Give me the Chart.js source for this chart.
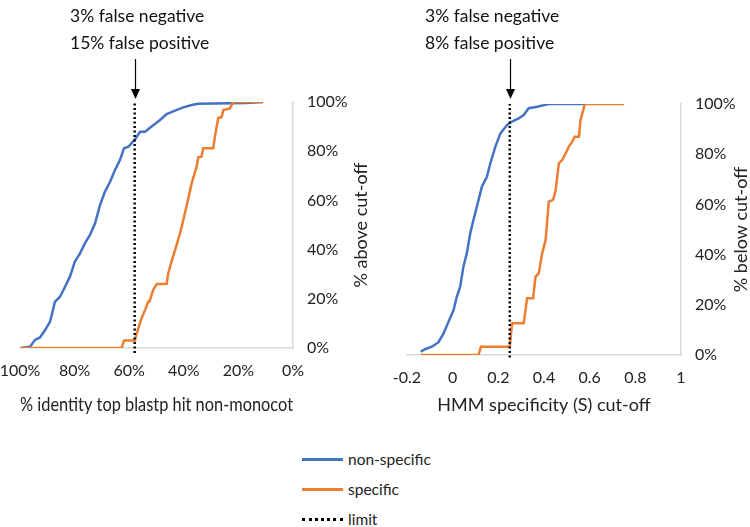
<!DOCTYPE html>
<html>
<head>
<meta charset="utf-8">
<script src="https://cdn.jsdelivr.net/npm/chart.js@4/dist/chart.umd.min.js"></script>
<style>
  html, body { margin: 0; padding: 0; background: #fff; }
  body { width: 750px; height: 527px; position: relative; overflow: hidden; font-family: Lato, "Open Sans", sans-serif; }
  .cv { position: absolute; top: 0; }
  #legend { position: absolute; left: 302px; top: 444px; font-size: 15.5px; color: #222; }
  .li { display: flex; align-items: center; height: 30px; }
  .sw { width: 41px; height: 0; margin-right: 5px; }
</style>
</head>
<body>
<canvas id="c1" class="cv" style="left:0" width="375" height="430"></canvas>
<canvas id="c2" class="cv" style="left:375px" width="375" height="430"></canvas>
<div id="legend">
  <div class="li"><span class="sw" id="sw0"></span><span>non-specific</span></div>
  <div class="li"><span class="sw" id="sw1"></span><span>specific</span></div>
  <div class="li"><span class="sw" id="sw2"></span><span>limit</span></div>
</div>
<script>
// ---------- Left chart data (% identity vs % above cut-off) ----------
const leftNonSpecX = [99.7,96.3,94.5,92.7,90.8,89.0,87.2,85.3,83.5,81.7,79.9,78.0,76.2,74.4,72.5,70.7,68.9,67.0,65.2,63.4,61.9,60.3,57.9,56.0,54.2,51.8,48.7,46.3,43.2,40.2,37.1,34.7,17.0,11.0];
const leftNonSpecY = [0,0.5,3.3,4.3,7.3,10.7,18.8,20.9,24.9,29.0,35.1,38.5,42.6,45.9,50.7,58.1,63.5,67.6,72.4,76.4,81.2,81.8,84.8,87.9,87.9,90.0,92.7,95.1,96.5,97.8,98.8,99.3,99.6,100];
const leftSpecX = [99.7,62.8,61.9,57.9,57.5,55.5,54.2,53.1,52.6,51.2,49.9,46.3,45.7,44.5,43.2,41.4,40.2,38.9,37.1,35.3,34.7,33.5,32.9,29.2,28.6,27.4,26.1,25.5,23.1,21.9,10.9];
const leftSpecY = [0,0,3,3,5,12,15.4,18.8,18.8,23.6,26,26,30.4,35.1,39.8,46.6,52,58.1,67,73.7,77.5,77.8,81.2,81.2,85.9,93.4,94,96.7,97.4,100,100];
const leftLimitX = [58,58];
const leftLimitY = [-2,100];
const leftXTicks = [100,80,60,40,20,0];

// ---------- Right chart data (HMM specificity vs % below cut-off) ----------
const rightNonSpecX = [-0.140,-0.121,-0.091,-0.062,-0.040,-0.018,0.004,0.018,0.033,0.047,0.062,0.077,0.091,0.106,0.128,0.150,0.165,0.187,0.209,0.238,0.260,0.289,0.311,0.333,0.370,0.421,0.575];
const rightNonSpecY = [1.3,2.3,3.3,5.1,8.6,13.3,17.9,23.2,27.2,35.2,40.5,48.5,53.8,59.1,67.1,71.0,76.4,83.0,88.3,91.6,93.0,94.3,95.6,98.3,98.9,100,100];
const rightSpecX = [-0.140,0.113,0.124,0.250,0.260,0.311,0.326,0.352,0.363,0.377,0.392,0.407,0.421,0.440,0.451,0.465,0.480,0.495,0.509,0.524,0.534,0.553,0.560,0.579,0.751];
const rightSpecY = [0,0,3.3,3.3,12.6,12.6,22.6,22.6,31.2,32.5,40.5,45.8,61.1,61.8,65.7,76.4,77.7,80.4,83.0,85.0,87.0,87.0,93.6,100,100];
const rightLimitX = [0.25,0.25];
const rightLimitY = [-1,100];
const rightXTicks = [-0.2,0,0.2,0.4,0.6,0.8,1];

const yTicks = [0,20,40,60,80,100];

const BLUE = '#4472C4', ORANGE = '#ED7D31';
const FONT = 'Lato, "Open Sans", sans-serif';
Chart.defaults.font.family = FONT;
Chart.defaults.color = '#222';

function pts(xs, ys) { return xs.map((x, i) => ({x, y: ys[i]})); }

document.getElementById('sw0').style.borderTop = '3px solid ' + BLUE;
document.getElementById('sw1').style.borderTop = '3px solid ' + ORANGE;
document.getElementById('sw2').style.borderTop = '3px dotted #000';

function makeChart(id, cfg) {
  const annot = {
    id: 'annot',
    afterDraw(chart) {
      const ctx = chart.ctx;
      const xs = chart.scales.x;
      const ax = Math.round(xs.getPixelForValue(cfg.limit)) + 0.5;
      ctx.save();
      ctx.fillStyle = '#111';
      ctx.font = '17.5px ' + FONT;
      ctx.textAlign = 'left';
      ctx.textBaseline = 'middle';
      ctx.fillText(cfg.line1, cfg.textX, 16);
      ctx.fillText(cfg.line2, cfg.textX, 43);
      ctx.strokeStyle = '#000';
      ctx.lineWidth = 1.2;
      ctx.beginPath();
      ctx.moveTo(ax, 59);
      ctx.lineTo(ax, 90);
      ctx.stroke();
      ctx.fillStyle = '#000';
      ctx.beginPath();
      ctx.moveTo(ax - 4.5, 89);
      ctx.lineTo(ax + 4.5, 89);
      ctx.lineTo(ax, 99);
      ctx.closePath();
      ctx.fill();
      ctx.fillStyle = '#222';
      ctx.font = '18px ' + FONT;
      ctx.translate(cfg.yTitleX, (chart.chartArea.top + chart.chartArea.bottom) / 2);
      ctx.rotate(-Math.PI / 2);
      ctx.textAlign = 'center';
      ctx.textBaseline = 'middle';
      ctx.fillText(cfg.yTitle, 0, 0);
      ctx.restore();
    }
  };
  return new Chart(document.getElementById(id), {
    type: 'scatter',
    data: {
      datasets: [
        { label: 'non-specific', data: pts(cfg.nsX, cfg.nsY), showLine: true, borderColor: BLUE, backgroundColor: BLUE, borderWidth: 2.5, pointRadius: 0, tension: 0, order: 2 },
        { label: 'specific', data: pts(cfg.sX, cfg.sY), showLine: true, borderColor: ORANGE, backgroundColor: ORANGE, borderWidth: 2.5, pointRadius: 0, tension: 0, order: 1 },
        { label: 'limit', data: pts(cfg.lX, cfg.lY), showLine: true, borderColor: '#000', backgroundColor: '#000', borderWidth: 2.5, borderDash: [2, 2.5], pointRadius: 0, clip: false, order: 0 }
      ]
    },
    options: {
      responsive: false,
      animation: false,
      events: [],
      layout: { padding: cfg.padding },
      plugins: { legend: { display: false }, tooltip: { enabled: false } },
      scales: {
        x: {
          type: 'linear', min: cfg.xMin, max: cfg.xMax, reverse: cfg.reverse,
          afterBuildTicks(s) { s.ticks = cfg.xTicks.map(v => ({value: v})); },
          afterFit(s) { s.height = cfg.xAxisH; s.paddingLeft = 0; s.paddingRight = 0; },
          grid: { display: false, drawTicks: false },
          border: { display: true, color: '#d9d9d9', width: 1.5 },
          ticks: { font: { size: 16 }, padding: 13, maxRotation: 0, callback: cfg.xFmt },
          title: { display: true, text: cfg.xTitle, font: { size: cfg.xTitleSize }, padding: { top: 0, bottom: cfg.xTitlePad } }
        },
        y: {
          position: 'right', min: 0, max: 100,
          afterBuildTicks(s) { s.ticks = yTicks.map(v => ({value: v})); },
          afterFit(s) { s.width = cfg.yAxisW; s.paddingTop = 0; s.paddingBottom = 0; },
          grid: { display: false, drawTicks: false },
          border: { display: true, color: '#d9d9d9', width: 1.5 },
          ticks: { font: { size: 16 }, padding: 14, callback: v => v + '%' }
        }
      }
    },
    plugins: [annot]
  });
}

makeChart('c1', {
  nsX: leftNonSpecX, nsY: leftNonSpecY, sX: leftSpecX, sY: leftSpecY, lX: leftLimitX, lY: leftLimitY,
  limit: leftLimitX[0], xMin: 0, xMax: 100, reverse: true, xTicks: leftXTicks,
  xFmt: v => v + '%', xTitle: '% identity top blastp hit non-monocot', xTitlePad: 14, xTitleSize: 19,
  padding: { left: 20, top: 102, right: 0, bottom: 0 }, xAxisH: 82, yAxisW: 82,
  line1: '3% false negative', line2: '15% false positive', textX: 70,
  yTitle: '% above cut-off', yTitleX: 361
});

makeChart('c2', {
  nsX: rightNonSpecX, nsY: rightNonSpecY, sX: rightSpecX, sY: rightSpecY, lX: rightLimitX, lY: rightLimitY,
  limit: rightLimitX[0], xMin: -0.2, xMax: 1, reverse: false, xTicks: rightXTicks,
  xFmt: v => String(Number(v.toFixed(1))), xTitle: 'HMM specificity (S) cut-off', xTitlePad: 14, xTitleSize: 18,
  padding: { left: 32, top: 104, right: 0, bottom: 0 }, xAxisH: 75, yAxisW: 69,
  line1: '3% false negative', line2: '8% false positive', textX: 50,
  yTitle: '% below cut-off', yTitleX: 366
});
</script>
</body>
</html>
